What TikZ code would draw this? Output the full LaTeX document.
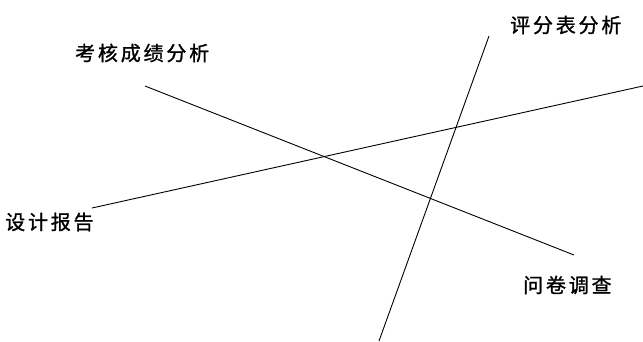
\documentclass[tikz,border=0pt]{standalone}
\usepackage{fontspec}
\newfontfamily\cjk[LetterSpace=14,FakeBold=1.2]{Noto Sans CJK SC}
\begin{document}
\begin{tikzpicture}[x=1pt,y=-1pt,
  lbl/.style={font=\cjk\fontsize{20pt}{22pt}\selectfont, inner sep=0pt, anchor=west, text=black},
  ln/.style={line width=0.9pt, black}]
\useasboundingbox (0,0) rectangle (643,341);
\fill[white] (0,0) rectangle (643,341);
% labels
\node[lbl] (kh) at (75,53) {考核成绩分析};
\node[lbl] (pf) at (510,25) {评分表分析};
\node[lbl] (sj) at (5,222) {设计报告};
\node[lbl] (wj) at (523,285) {问卷调查};
% line ends
\coordinate (a1) at (145,86);
\coordinate (a2) at (574,255);
\coordinate (b1) at (92,208);
\coordinate (b2) at (643,86);
\coordinate (c1) at (489,36);
\coordinate (c2) at (379,341);
\draw[ln] (a1) -- (a2);
\draw[ln] (b1) -- (b2);
\draw[ln] (c1) -- (c2);
\end{tikzpicture}
\end{document}
